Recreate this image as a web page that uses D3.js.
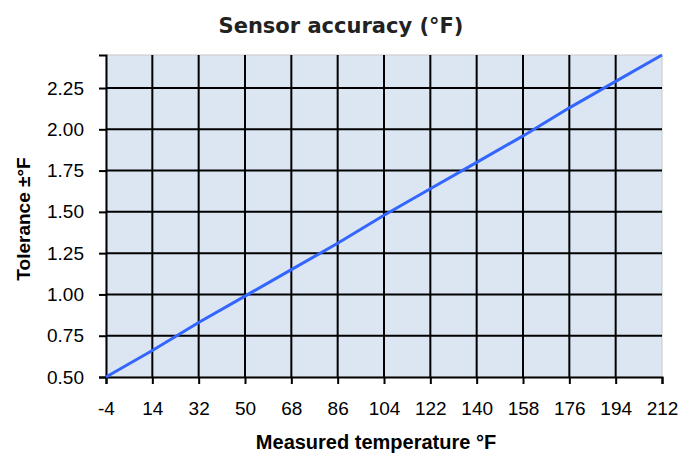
<!DOCTYPE html>
<html>
<head>
<meta charset="utf-8">
<script src="https://cdn.jsdelivr.net/npm/d3@7"></script>
<style>
  body { margin: 0; background: #fff; }
  text { font-family: "Liberation Sans", Arial, sans-serif; }
</style>
</head>
<body>
<svg id="chart" width="693" height="453"></svg>
<script>
// values
const temps = [-4, 14, 32, 50, 68, 86, 104, 122, 140, 158, 176, 194, 212];
const tolerance = [0.50, 0.66, 0.83, 0.99, 1.15, 1.31, 1.48, 1.64, 1.80, 1.96, 2.13, 2.29, 2.45];
const yTicks = [0.5, 0.75, 1.0, 1.25, 1.5, 1.75, 2.0, 2.25];

const margin = { top: 55, right: 31, bottom: 76, left: 106 };
const width = 693, height = 453;

const svg = d3.select("#chart");

const x = d3.scaleLinear()
  .domain([-4, 212])
  .range([margin.left, width - margin.right]);

const y = d3.scaleLinear()
  .domain([0.5, 2.45])
  .range([height - margin.bottom, margin.top]);

// plot background
svg.append("rect")
  .attr("x", margin.left)
  .attr("y", margin.top)
  .attr("width", x(212) - margin.left)
  .attr("height", y(0.5) - margin.top)
  .attr("fill", "#dce6f2")
  .attr("stroke", "#c8c8c8")
  .attr("stroke-width", 1);

// grid
svg.append("g")
  .selectAll("line")
  .data(temps.slice(1, -1))
  .join("line")
  .attr("x1", d => x(d)).attr("x2", d => x(d))
  .attr("y1", margin.top).attr("y2", y(0.5))
  .attr("stroke", "#000").attr("stroke-width", 2);

svg.append("g")
  .selectAll("line")
  .data(yTicks.slice(1))
  .join("line")
  .attr("x1", margin.left).attr("x2", x(212))
  .attr("y1", d => y(d)).attr("y2", d => y(d))
  .attr("stroke", "#000").attr("stroke-width", 2);

// axes
const xAxis = svg.append("g")
  .attr("transform", `translate(0,${y(0.5)})`)
  .call(d3.axisBottom(x).tickValues(temps).tickFormat(d => String(d)).tickSize(7).tickPadding(18));

const yAxis = svg.append("g")
  .attr("transform", `translate(${margin.left},0)`)
  .call(d3.axisLeft(y).tickValues(yTicks).tickFormat(d3.format(".2f")).tickSize(7).tickPadding(15));

[xAxis, yAxis].forEach(g => {
  g.select(".domain").attr("stroke", "#000").attr("stroke-width", 2);
  g.selectAll(".tick line").attr("stroke", "#000").attr("stroke-width", 2);
  g.selectAll(".tick text")
    .attr("fill", "#000")
    .style("font-size", "19px")
    .style("font-family", "'Liberation Sans', Arial, sans-serif");
});

// the line
svg.append("path")
  .datum(temps.map((t, i) => [t, tolerance[i]]))
  .attr("fill", "none")
  .attr("stroke", "#3366ff")
  .attr("stroke-width", 3)
  .attr("d", d3.line().x(d => x(d[0])).y(d => y(d[1])));

// titles
svg.append("text")
  .attr("x", 341).attr("y", 33)
  .attr("text-anchor", "middle")
  .style("font-family", "'DejaVu Sans', Verdana, sans-serif")
  .style("font-weight", "bold")
  .style("font-size", "21px")
  .attr("fill", "#222")
  .text("Sensor accuracy (°F)");

svg.append("text")
  .attr("x", 376).attr("y", 449)
  .attr("text-anchor", "middle")
  .style("font-weight", "bold")
  .style("font-size", "20px")
  .text("Measured temperature °F");

svg.append("text")
  .attr("transform", `translate(30,219) rotate(-90)`)
  .attr("text-anchor", "middle")
  .style("font-weight", "bold")
  .style("font-size", "19px")
  .text("Tolerance ±°F");
</script>
</body>
</html>
